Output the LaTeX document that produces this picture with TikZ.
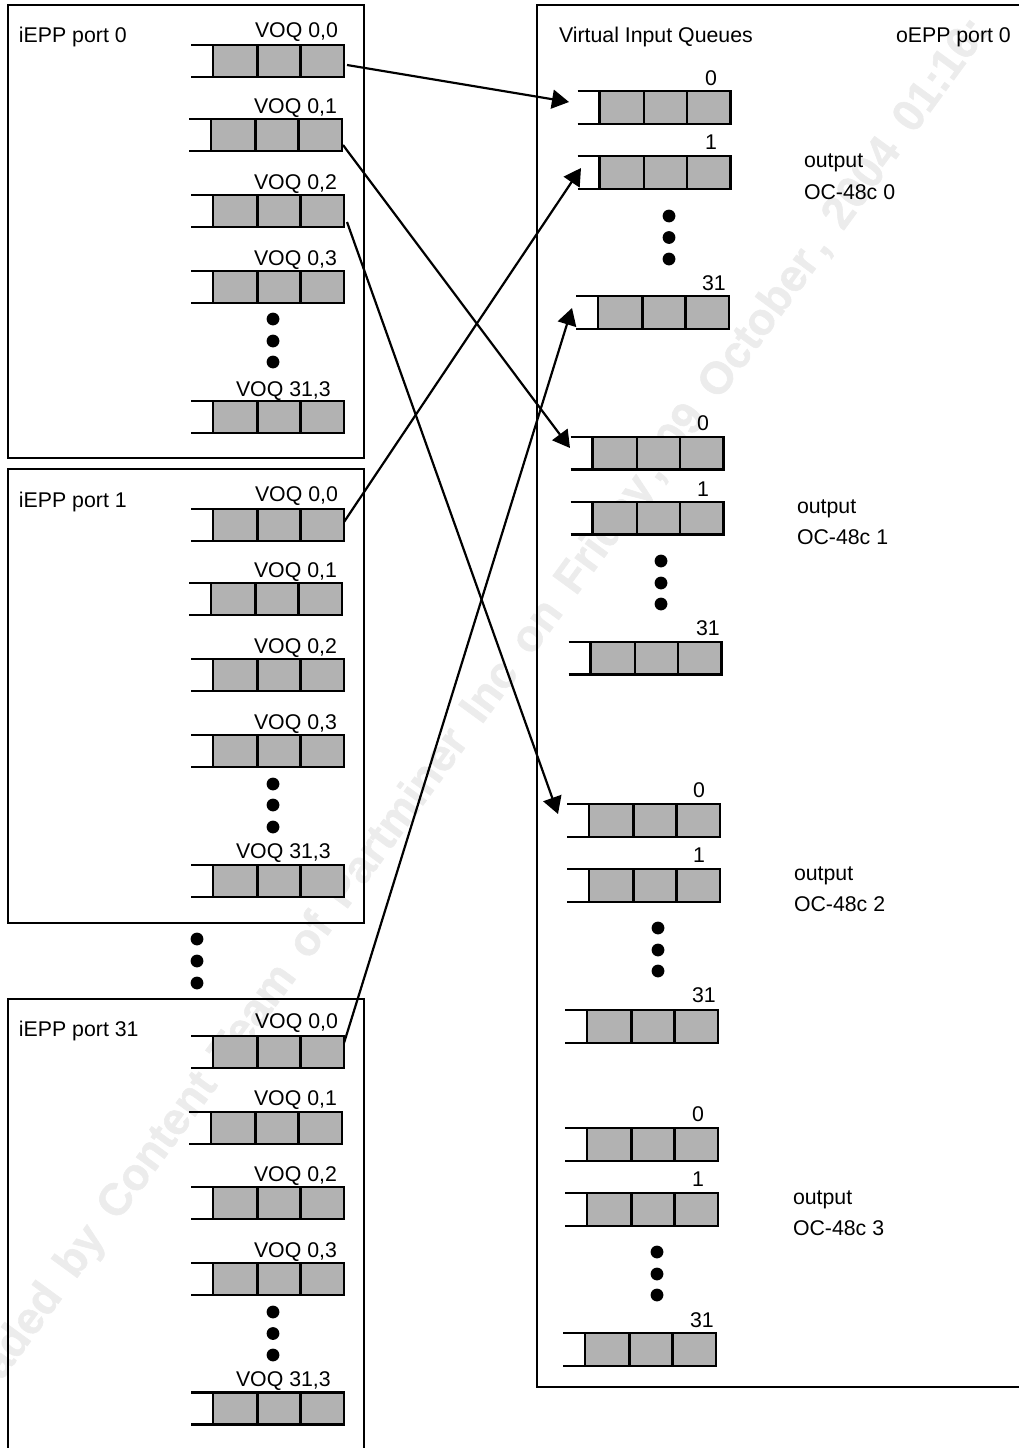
\documentclass[tikz,border=0pt]{standalone}
\usepackage{fontspec}
\setmainfont{Liberation Sans}
\newfontfamily\wmfont[WordSpace=1.6,BoldFont=*,BoldFeatures={FakeBold=1.2}]{Liberation Sans Bold}
\usetikzlibrary{arrows.meta}
\definecolor{qgrey}{RGB}{178,178,178}
\definecolor{wmgrey}{RGB}{236,236,236}
\tikzset{
  qbody/.style={draw,fill=qgrey,minimum width=131pt,minimum height=32pt,inner sep=0pt,outer sep=0pt},
  lab/.style={anchor=base west,inner sep=0pt,outer sep=0pt,font=\fontsize{21.3}{24}\selectfont,text=black},
  flow/.style={line width=2.2pt,-{Triangle[length=17pt,width=19pt]}},
  port/.style={draw,outer sep=0pt,inner sep=0pt,anchor=north west},
  wmark/.style={anchor=base west,inner sep=0pt,font=\wmfont\fontsize{44.9}{50}\selectfont\bfseries,text=wmgrey,rotate=53.8}
}
\newcommand{\Qu}[4][32]{%
  \begin{scope}[shift={(#3,#4)}]
    \node[qbody,minimum height=#1 pt] (#2) at (87.5,#1/2) {};
    \draw (0,0) -- (#2.north west);
    \draw (0,#1) -- (#2.south west);
    \draw (66.5,0) -- (66.5,#1);
    \draw (109.5,0) -- (109.5,#1);
  \end{scope}}
\newcommand{\Dots}[4]{%
  \fill (#1,#2) circle (6.4pt);
  \fill (#1,#3) circle (6.4pt);
  \fill (#1,#4) circle (6.4pt);}
\begin{document}
\begin{tikzpicture}[x=1pt,y=-1pt,line width=2.5pt]
\useasboundingbox (0,0) rectangle (1019,1448);
\node[wmark] (wm) at (1,1382) {aded by Content Team of Partminer Inc on Friday\kern.12em, 09 October\kern.12em, 2004 01:16:};

% input port boxes
\node[port,minimum width=356pt,minimum height=453pt] (iepp0) at (8,5) {};
\node[port,minimum width=356pt,minimum height=454pt] (iepp1) at (8,469) {};
\draw (8,1448) -- (8,999) -- (364,999) -- (364,1448);
% output port box
\draw (1019,5) -- (537,5) -- (537,1387) -- (1019,1387);

% iEPP port 0
\node[lab] (t0) at (19,42) {iEPP port 0};
\node[lab] (a1) at (255,37) {VOQ 0,0}; \Qu{a00}{191}{45}
\node[lab] (a2) at (254,113) {VOQ 0,1}; \Qu{a01}{189}{119}
\node[lab] (a3) at (254,189) {VOQ 0,2}; \Qu{a02}{191}{195}
\node[lab] (a4) at (254,265) {VOQ 0,3}; \Qu{a03}{191}{271}
\Dots{273}{319}{341}{362}
\node[lab] (a5) at (236,396) {VOQ 31,3}; \Qu{a31}{191}{401}

% iEPP port 1
\node[lab] (t1) at (19,507) {iEPP port 1};
\node[lab] (b1) at (255,501) {VOQ 0,0}; \Qu{b00}{191}{509}
\node[lab] (b2) at (254,577) {VOQ 0,1}; \Qu{b01}{189}{583}
\node[lab] (b3) at (254,653) {VOQ 0,2}; \Qu{b02}{191}{659}
\node[lab] (b4) at (254,729) {VOQ 0,3}; \Qu{b03}{191}{735}
\Dots{273}{784}{805}{827}
\node[lab] (b5) at (236,858) {VOQ 31,3}; \Qu{b31}{191}{865}

\Dots{197}{939}{961}{983}

% iEPP port 31
\node[lab] (t31) at (19,1036) {iEPP port 31};
\node[lab] (c1) at (255,1028) {VOQ 0,0}; \Qu{c00}{191}{1036}
\node[lab] (c2) at (254,1105) {VOQ 0,1}; \Qu{c01}{189}{1112}
\node[lab] (c3) at (254,1181) {VOQ 0,2}; \Qu{c02}{191}{1187}
\node[lab] (c4) at (254,1257) {VOQ 0,3}; \Qu{c03}{191}{1263}
\Dots{273}{1312}{1333.5}{1355}
\node[lab] (c5) at (236,1386) {VOQ 31,3}; \Qu{c31}{191}{1392.5}

% oEPP
\node[lab] (vq) at (559,42) {Virtual Input Queues};
\node[lab] (oe) at (896,42) {oEPP port 0};

% output 0
\node[lab] (d0) at (705,85) {0}; \Qu[33]{d00}{577.5}{91}
\node[lab] (d1) at (705,149) {1}; \Qu[33]{d01}{577.5}{156}
\Dots{669}{216}{237.5}{259}
\node[lab] (d2) at (702,290) {31}; \Qu[33]{d31}{576}{296}
\node[lab] (do) at (804,167) {output};
\node[lab] (dc) at (804,199) {OC-48c 0};

% output 1
\node[lab] (e0) at (697,430) {0}; \Qu[32.5]{e00}{570.5}{437}
\node[lab] (e1) at (697,496) {1}; \Qu[32.5]{e01}{570.5}{502}
\Dots{661}{561}{583}{604}
\node[lab] (e2) at (696,635) {31}; \Qu[32.5]{e31}{568.5}{642}
\node[lab] (eo) at (797,513) {output};
\node[lab] (ec) at (797,544) {OC-48c 1};

% output 2
\node[lab] (f0) at (693,797) {0}; \Qu[33]{f00}{567}{804}
\node[lab] (f1) at (693,862) {1}; \Qu[33]{f01}{567}{869}
\Dots{658}{928}{950}{971}
\node[lab] (f2) at (692,1002) {31}; \Qu[33]{f31}{565}{1010}
\node[lab] (fo) at (794,880) {output};
\node[lab] (fc) at (794,911) {OC-48c 2};

% output 3
\node[lab] (g0) at (692,1121) {0}; \Qu[33]{g00}{565}{1128}
\node[lab] (g1) at (692,1186) {1}; \Qu[33]{g01}{565}{1193}
\Dots{657}{1252}{1274}{1295}
\node[lab] (g2) at (690,1327) {31}; \Qu[33]{g31}{563}{1333}
\node[lab] (go) at (793,1204) {output};
\node[lab] (gc) at (793,1235) {OC-48c 3};

% connectors
\coordinate (s1) at (347,65);   \coordinate (e1t) at (569,102);
\coordinate (s2) at (343,145);  \coordinate (e2t) at (570,448);
\coordinate (s3) at (347,222);  \coordinate (e3t) at (558,814);
\coordinate (s4) at (344,522);  \coordinate (e4t) at (581,168);
\coordinate (s5) at (344,1043); \coordinate (e5t) at (572,308);
\draw[flow] (s1) -- (e1t);
\draw[flow] (s2) -- (e2t);
\draw[flow] (s3) -- (e3t);
\draw[flow] (s4) -- (e4t);
\draw[flow] (s5) -- (e5t);
\end{tikzpicture}
\end{document}
